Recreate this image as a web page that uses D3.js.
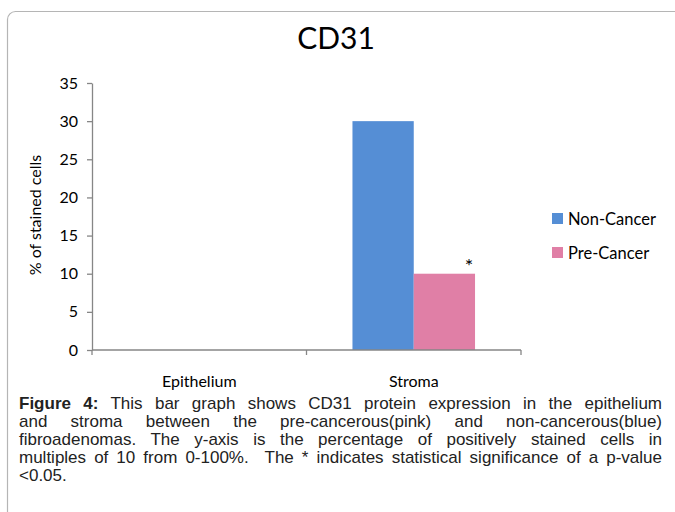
<!DOCTYPE html>
<html>
<head>
<meta charset="utf-8">
<script src="https://cdn.jsdelivr.net/npm/d3@7"></script>
<style>
  body { margin: 0; background: #fff; }
  #wrap { position: relative; width: 675px; height: 512px; overflow: hidden; }
  svg { position: absolute; left: 0; top: 0; }
  .caption { position: absolute; left: 19px; width: 643px; font-family: "Liberation Sans", Arial, sans-serif; font-size: 17px; color: #222; }
  .caption div { height: 18px; line-height: 18px; white-space: nowrap; }
  .caption .just { text-align: justify; text-align-last: justify; white-space: normal; }
</style>
</head>
<body>
<div id="wrap">
  <svg id="chartId" width="675" height="512"></svg>
  <div class="caption" id="caption"></div>
</div>
<script>
const categories = ["Epithelium", "Stroma"];
const seriesNames = ["Non-Cancer", "Pre-Cancer"];
const nonCancer = [0, 30];
const preCancer = [0, 10];
const yTicks = [0, 5, 10, 15, 20, 25, 30, 35];
const significant = [false, true]; // * above pre-cancer bar

const captionLines = [
  "This bar graph shows CD31 protein expression in the epithelium",
  "and stroma between the pre-cancerous(pink) and non-cancerous(blue)",
  "fibroadenomas. The y-axis is the percentage of positively stained cells in",
  "multiples of 10 from 0-100%.\u00a0 The * indicates statistical significance of a p-value",
  "<0.05."
];

const colors = { "Non-Cancer": "#558ed5", "Pre-Cancer": "#e07fa6" };
const axisColor = "#868686";
const font = "Lato, sans-serif";

const data = categories.map((c, i) => ({
  category: c,
  values: [
    { key: "Non-Cancer", value: nonCancer[i] },
    { key: "Pre-Cancer", value: preCancer[i] }
  ],
  star: significant[i]
}));

const svg = d3.select("#chartId");

// outer frame, only top and left edges visible
svg.append("rect")
  .attr("x", 7.5).attr("y", 11.5)
  .attr("width", 700).attr("height", 520)
  .attr("rx", 8)
  .attr("fill", "none")
  .attr("stroke", "#b5b5b5")
  .attr("stroke-width", 1.2);

const margin = { top: 83, left: 92 };
const innerWidth = 429;
const innerHeight = 267;

const g = svg.append("g").attr("transform", `translate(${margin.left}, ${margin.top})`);

svg.append("text")
  .attr("x", 336)
  .attr("y", 49)
  .attr("text-anchor", "middle")
  .attr("font-family", font)
  .attr("font-size", 30)
  .attr("fill", "#000")
  .text("CD31");

const xScale = d3.scaleBand().domain(categories).range([0, innerWidth]);
const bw = xScale.bandwidth();
const xSub = d3.scaleBand().domain(seriesNames)
  .range([bw * 0.2143, bw * 0.7857]);

const yScale = d3.scaleLinear().domain([0, 35]).range([innerHeight, 0]);

// y axis
const yAxisG = g.append("g")
  .call(d3.axisLeft(yScale).tickValues(yTicks).tickSize(5).tickSizeOuter(0).tickPadding(9));
yAxisG.select(".domain").attr("stroke", axisColor).attr("stroke-width", 1.3);
yAxisG.selectAll(".tick line").attr("stroke", axisColor).attr("stroke-width", 1.3);
yAxisG.selectAll(".tick text")
  .attr("font-family", font).attr("font-size", 16).attr("fill", "#000");

g.append("text")
  .attr("transform", `translate(${35 - margin.left}, ${215 - margin.top}) rotate(-90)`)
  .attr("text-anchor", "middle")
  .attr("dy", "0.35em")
  .attr("font-family", font)
  .attr("font-size", 16)
  .attr("fill", "#000")
  .text("% of stained cells");

// bars
const groups = g.selectAll(".cat")
  .data(data)
  .enter()
  .append("g")
  .attr("transform", (d) => `translate(${xScale(d.category)}, 0)`);

groups.selectAll("rect")
  .data((d) => d.values)
  .enter()
  .append("rect")
  .attr("x", (d) => xSub(d.key))
  .attr("y", (d) => yScale(d.value))
  .attr("width", xSub.bandwidth())
  .attr("height", (d) => innerHeight - yScale(d.value))
  .attr("fill", (d) => colors[d.key]);

groups.filter((d) => d.star)
  .append("text")
  .attr("x", (d) => xSub("Pre-Cancer") + xSub.bandwidth() - 6)
  .attr("y", (d) => yScale(d.values[1].value) - 1)
  .attr("text-anchor", "middle")
  .attr("font-family", font)
  .attr("font-size", 20)
  .attr("fill", "#000")
  .text("*");

// x axis with category separator ticks
const xAxisG = g.append("g").attr("transform", `translate(0, ${innerHeight})`);
xAxisG.append("line")
  .attr("x1", 0).attr("x2", innerWidth)
  .attr("stroke", axisColor).attr("stroke-width", 1.6);
xAxisG.selectAll(".sep")
  .data(categories.map((c) => xScale(c)).concat([innerWidth]))
  .enter()
  .append("line")
  .attr("x1", (d) => d).attr("x2", (d) => d)
  .attr("y1", 0).attr("y2", 5)
  .attr("stroke", axisColor).attr("stroke-width", 1.3);
xAxisG.selectAll(".lab")
  .data(categories)
  .enter()
  .append("text")
  .attr("x", (d) => xScale(d) + bw / 2)
  .attr("y", 37)
  .attr("text-anchor", "middle")
  .attr("font-family", font)
  .attr("font-size", 16)
  .attr("fill", "#000")
  .text((d) => d);

// legend
const legend = svg.append("g").attr("transform", "translate(552, 213)");
seriesNames.forEach((s, i) => {
  legend.append("rect")
    .attr("x", 0).attr("y", i * 34)
    .attr("width", 11).attr("height", 11)
    .attr("fill", colors[s]);
  legend.append("text")
    .attr("x", 16).attr("y", i * 34 + 11.5)
    .attr("font-family", font)
    .attr("font-size", 16.5)
    .attr("fill", "#000")
    .text(s);
});

// caption
const cap = d3.select("#caption").style("top", "395px");
captionLines.forEach((line, i) => {
  const div = cap.append("div").attr("class", i < captionLines.length - 1 ? "just" : "");
  if (i === 0) {
    div.append("b").text("Figure 4:");
    div.append("span").text(" " + line);
  } else {
    div.text(line);
  }
});
</script>
</body>
</html>
